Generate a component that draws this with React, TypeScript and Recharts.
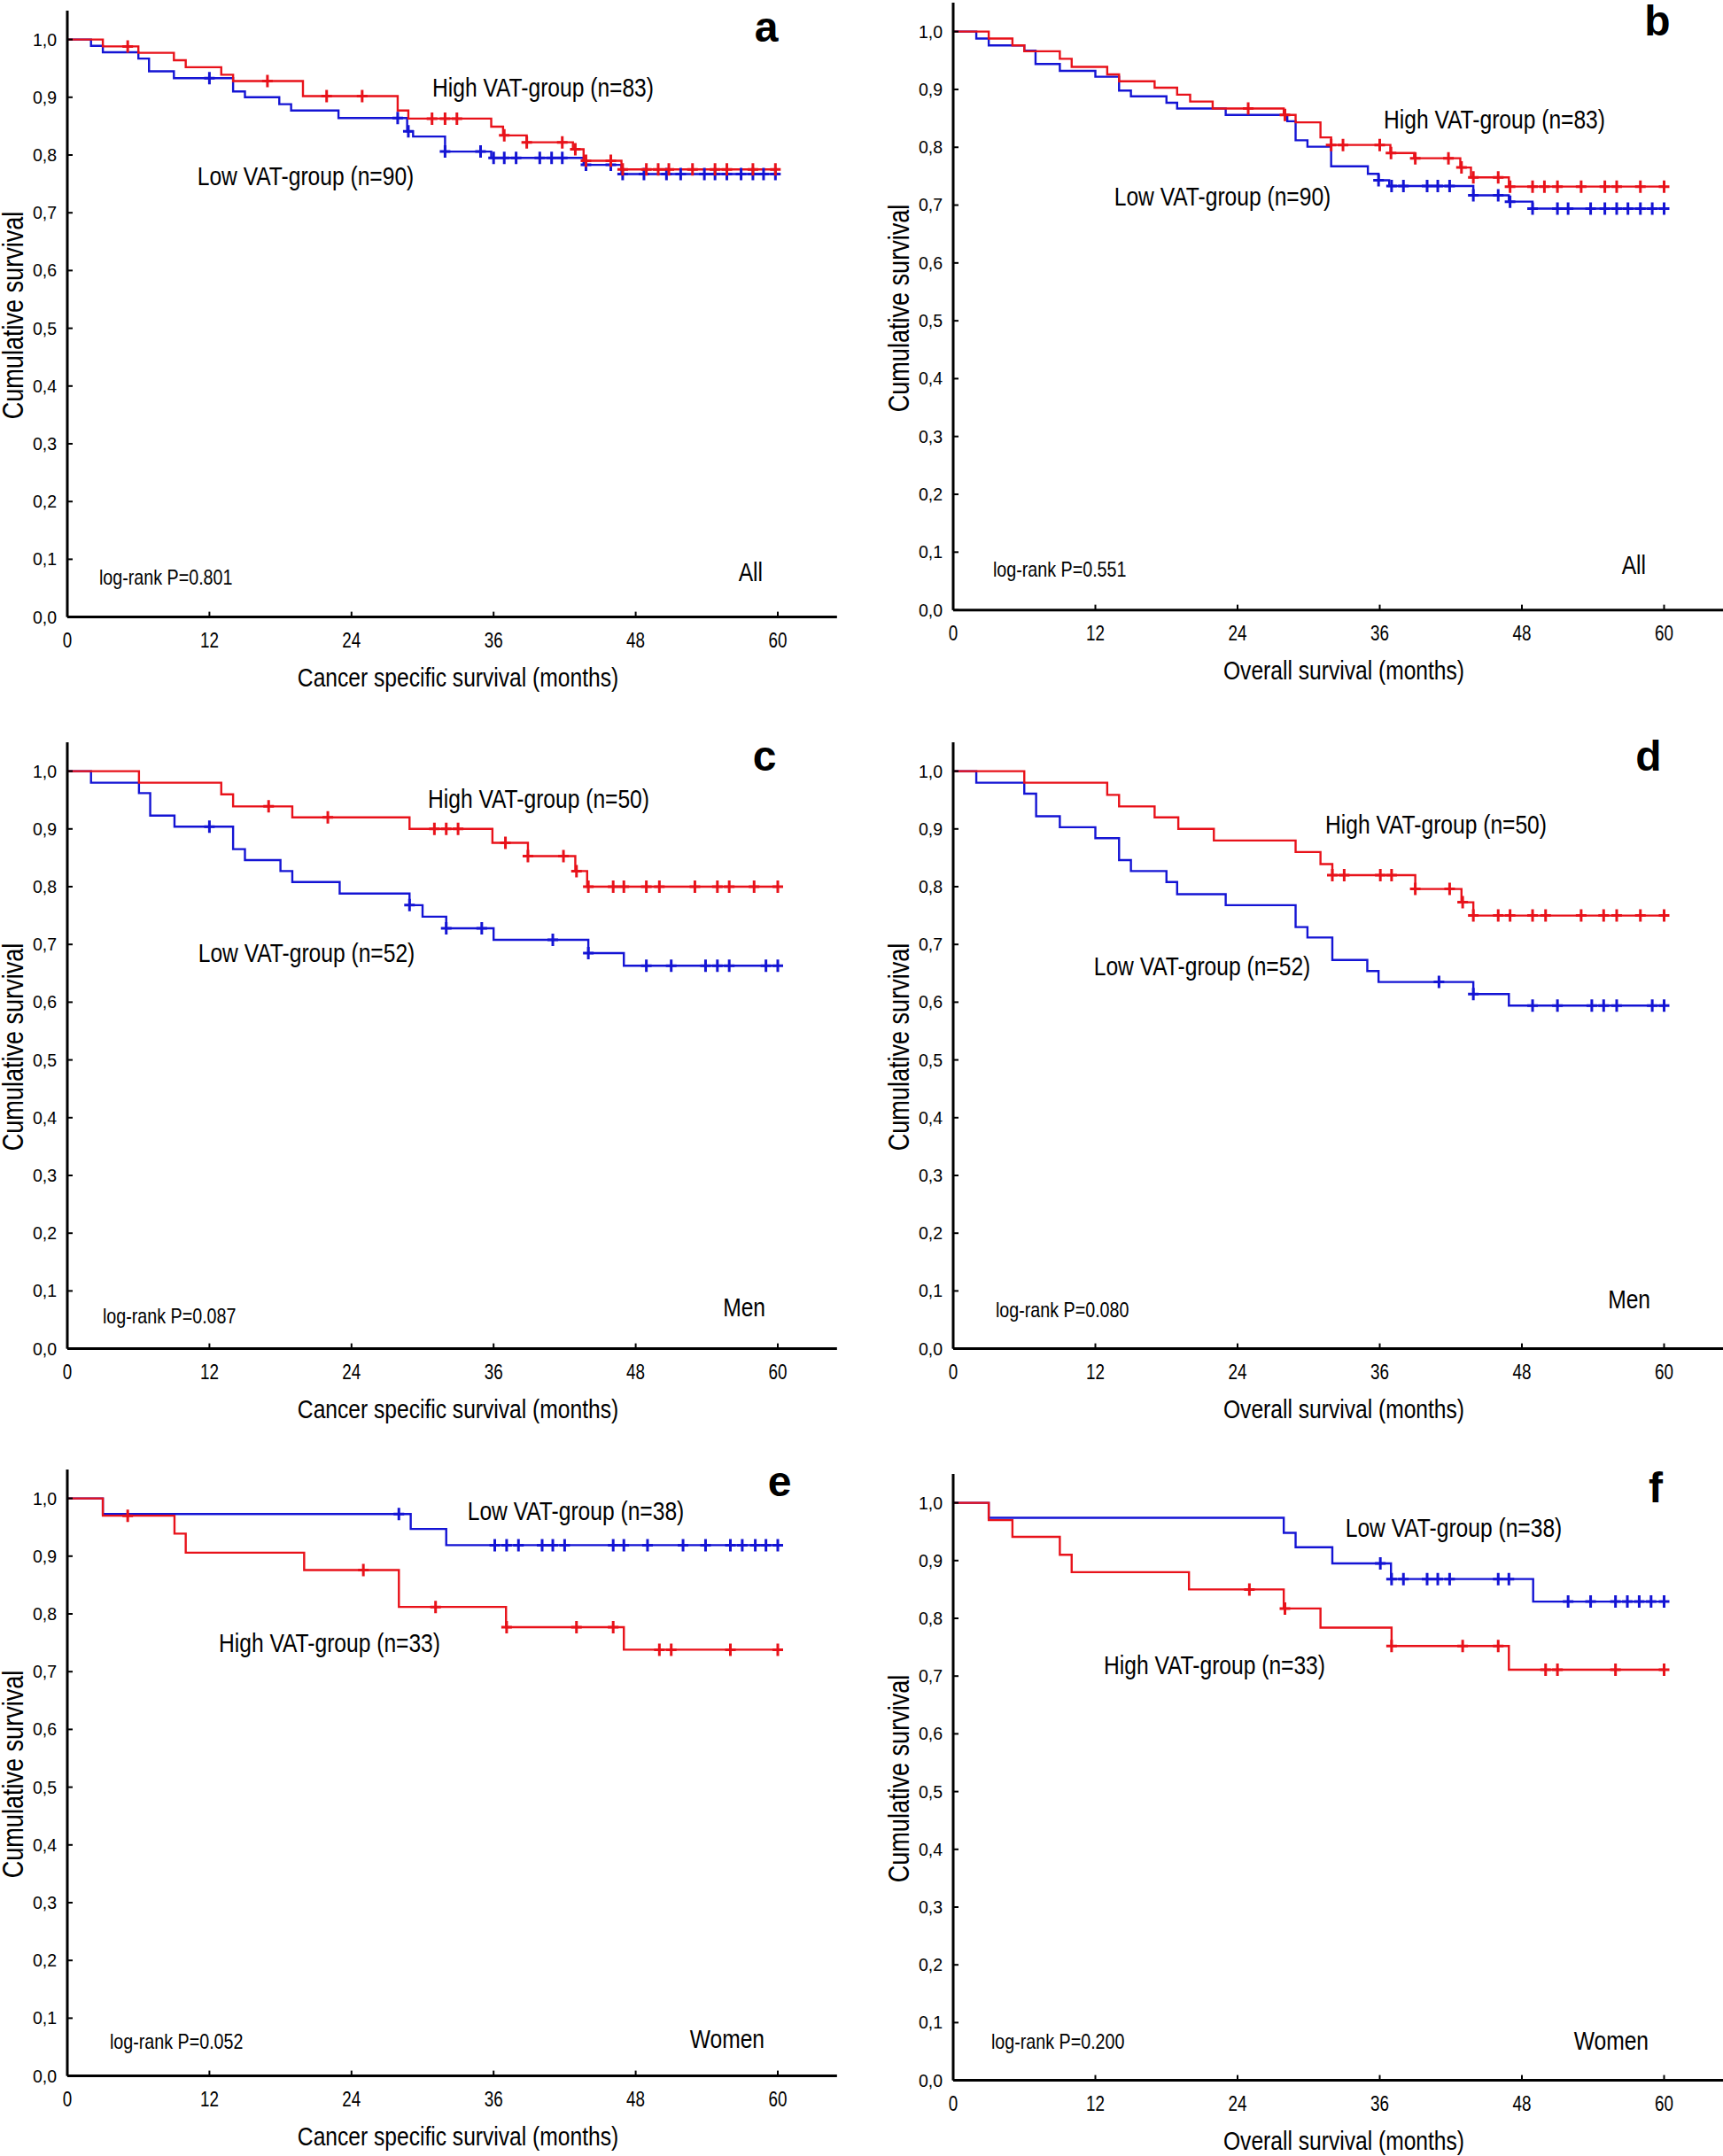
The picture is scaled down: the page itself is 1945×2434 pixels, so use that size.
import React from 'react';
import { ComposedChart, Line, Scatter, XAxis, YAxis } from 'recharts';

// ---------- Data (months, cumulative survival) ----------
// Panel a: cancer specific survival, All
const A_HIGH_T = [0, 3.0, 6.0, 9.0, 10.0, 13.0, 14.0, 19.9, 27.9, 28.8, 35.8, 36.8, 38.8, 42.7, 43.6, 46.8];
const A_HIGH_S = [1, 0.988, 0.977, 0.964, 0.952, 0.939, 0.928, 0.902, 0.877, 0.863, 0.849, 0.834, 0.822, 0.810, 0.790, 0.775];
const A_HIGH_C = [5.1, 16.9, 21.9, 24.9, 30.8, 31.9, 32.9, 36.9, 38.8, 41.8, 42.9, 43.8, 45.9, 46.9, 48.9, 49.9, 50.8, 52.8, 54.7, 55.7, 57.9, 59.8];
const A_LOW_T = [0, 2.0, 3.0, 6.0, 6.9, 9.0, 14.0, 15.0, 17.9, 18.9, 22.9, 28.7, 29.2, 31.9, 35.8, 43.6, 46.8];
const A_LOW_S = [1, 0.989, 0.978, 0.967, 0.945, 0.933, 0.910, 0.900, 0.888, 0.877, 0.864, 0.841, 0.832, 0.806, 0.795, 0.783, 0.767];
const A_LOW_C = [12.0, 27.9, 28.8, 31.9, 34.9, 36.0, 36.9, 37.9, 39.9, 40.9, 41.8, 43.8, 45.9, 46.9, 48.7, 50.6, 51.8, 53.8, 54.7, 55.7, 56.9, 57.9, 58.8, 59.8];

// Panel b: overall survival, All
const B_HIGH_T = [0, 3.0, 5.0, 6.0, 9.0, 10.0, 13.0, 14.0, 17.0, 18.9, 20.0, 21.9, 27.9, 28.9, 31.0, 31.9, 36.9, 38.9, 42.8, 43.7, 46.9];
const B_HIGH_S = [1, 0.988, 0.976, 0.966, 0.953, 0.939, 0.926, 0.914, 0.903, 0.891, 0.879, 0.867, 0.856, 0.843, 0.817, 0.804, 0.790, 0.781, 0.765, 0.748, 0.732];
const B_HIGH_C = [24.9, 28.0, 31.9, 32.9, 36.0, 36.95, 39.0, 41.8, 42.9, 43.9, 46.0, 47.0, 48.9, 49.9, 51.0, 53.0, 55.0, 56.0, 58.0, 60.0];
const B_LOW_T = [0, 1.95, 3.0, 6.0, 6.95, 9.0, 12.0, 14.0, 15.0, 18.0, 18.9, 23.0, 28.2, 28.9, 29.9, 31.9, 35.0, 35.9, 36.8, 43.9, 46.9, 48.9];
const B_LOW_S = [1, 0.988, 0.976, 0.967, 0.944, 0.932, 0.922, 0.898, 0.888, 0.877, 0.867, 0.856, 0.845, 0.812, 0.801, 0.767, 0.754, 0.743, 0.733, 0.717, 0.706, 0.694];
const B_LOW_C = [35.9, 37.0, 38.0, 40.0, 40.9, 41.9, 43.9, 46.0, 47.0, 48.9, 51.0, 51.9, 53.8, 55.0, 56.0, 56.95, 58.0, 59.0, 60.0];

// Panel c: cancer specific survival, Men
const C_HIGH_T = [0, 6.05, 13.0, 14.0, 19.0, 28.9, 35.9, 38.9, 42.9, 43.9];
const C_HIGH_S = [1, 0.980, 0.960, 0.939, 0.920, 0.900, 0.876, 0.853, 0.827, 0.800];
const C_HIGH_C = [17.0, 22.0, 31.0, 32.0, 33.0, 37.0, 38.9, 41.9, 43.0, 44.0, 46.1, 47.0, 48.9, 50.0, 53.0, 54.9, 55.9, 58.0, 60.0];
const C_LOW_T = [0, 2.0, 6.05, 7.0, 9.05, 14.0, 15.0, 18.0, 19.0, 23.0, 28.9, 30.0, 32.0, 36.0, 44.0, 47.0];
const C_LOW_S = [1, 0.980, 0.962, 0.923, 0.904, 0.865, 0.846, 0.827, 0.808, 0.788, 0.768, 0.748, 0.728, 0.708, 0.685, 0.663];
const C_LOW_C = [12.0, 28.9, 32.0, 35.0, 41.0, 44.0, 48.9, 51.0, 53.9, 54.9, 55.9, 59.0, 60.0];

// Panel d: overall survival, Men
const D_HIGH_T = [0, 6.0, 13.0, 14.0, 17.0, 19.0, 22.0, 28.9, 31.0, 32.0, 39.0, 42.9, 43.9];
const D_HIGH_S = [1, 0.980, 0.959, 0.939, 0.920, 0.900, 0.880, 0.860, 0.839, 0.820, 0.796, 0.773, 0.750];
const D_HIGH_C = [32.0, 33.0, 36.05, 37.0, 39.0, 41.9, 43.0, 43.9, 46.0, 47.0, 48.9, 50.0, 53.0, 54.9, 56.0, 58.0, 60.0];
const D_LOW_T = [0, 1.95, 6.0, 7.0, 9.0, 12.0, 14.0, 15.0, 18.0, 18.9, 23.0, 28.9, 29.9, 32.0, 34.95, 35.9, 43.9, 46.9];
const D_LOW_S = [1, 0.980, 0.961, 0.922, 0.903, 0.884, 0.846, 0.827, 0.808, 0.787, 0.768, 0.730, 0.712, 0.673, 0.654, 0.635, 0.614, 0.594];
const D_LOW_C = [41.0, 43.9, 48.9, 51.0, 53.9, 54.9, 56.0, 59.0, 60.0];

// Panel e: cancer specific survival, Women
const E_LOW_T = [0, 3.0, 29.0, 32.0];
const E_LOW_S = [1, 0.973, 0.947, 0.919];
const E_LOW_C = [28.0, 36.1, 37.1, 38.1, 40.1, 41.0, 42.0, 46.1, 47.0, 49.0, 52.0, 53.9, 56.0, 57.0, 58.1, 59.0, 60.0];
const E_HIGH_T = [0, 3.0, 9.05, 10.0, 20.0, 28.0, 37.05, 47.0];
const E_HIGH_S = [1, 0.970, 0.939, 0.906, 0.876, 0.812, 0.777, 0.738];
const E_HIGH_C = [5.1, 25.0, 31.1, 37.1, 43.0, 46.1, 50.0, 51.0, 56.0, 60.0];

// Panel f: overall survival, Women
const F_LOW_T = [0, 3.0, 27.9, 28.9, 32.0, 36.95, 48.95];
const F_LOW_S = [1, 0.974, 0.948, 0.923, 0.895, 0.868, 0.829];
const F_LOW_C = [36.05, 37.0, 38.0, 40.0, 40.9, 41.9, 46.0, 46.9, 51.9, 53.8, 55.9, 56.9, 57.9, 58.9, 60.0];
const F_HIGH_T = [0, 3.0, 5.0, 9.0, 10.0, 19.9, 27.9, 31.0, 37.0, 46.9];
const F_HIGH_S = [1, 0.970, 0.941, 0.910, 0.880, 0.850, 0.817, 0.784, 0.752, 0.711];
const F_HIGH_C = [25.0, 28.0, 37.0, 43.0, 46.0, 50.0, 51.0, 55.9, 60.0];

const X_TICKS = [0, 12, 24, 36, 48, 60];
const Y_TICKS = [0, 0.1, 0.2, 0.3, 0.4, 0.5, 0.6, 0.7, 0.8, 0.9, 1.0];

// ---------- Styles ----------
const RED = '#e8121a';
const BLUE = '#1414d4';
const FONT = "'Liberation Sans', Arial, sans-serif";
const NARROW = 0.82;

type Curve = { t: number[]; s: number[]; c: number[]; color: string };

function stepData(cv: Curve) {
  const pts = cv.t.map((t, i) => ({ t, s: cv.s[i] }));
  const end = Math.max(cv.c.length ? cv.c[cv.c.length - 1] : 0, cv.t[cv.t.length - 1]);
  pts.push({ t: end, s: cv.s[cv.s.length - 1] });
  return pts;
}
function censorData(cv: Curve) {
  return cv.c.map((t) => {
    let v = cv.s[0];
    for (let i = 0; i < cv.t.length; i++) if (cv.t[i] <= t + 1e-9) v = cv.s[i];
    return { t, s: v };
  });
}
const fmtY = (v: number) => v.toFixed(1).replace('.', ',');

type PanelDef = {
  x0: number; x60: number; y1: number; y0: number;
  curves: Curve[];
  xTitle: string;
  letter: string; letterPos: [number, number];
  high: string; highPos: [number, number];
  low: string; lowPos: [number, number];
  logrank: string; logrankPos: [number, number];
  group: string; groupPos: [number, number];
};

const PANELS: PanelDef[] = [
  {
    x0: 75.5, x60: 877.5, y1: 45, y0: 697,
    curves: [
      { t: A_LOW_T, s: A_LOW_S, c: A_LOW_C, color: BLUE },
      { t: A_HIGH_T, s: A_HIGH_S, c: A_HIGH_C, color: RED },
    ],
    xTitle: 'Cancer specific survival (months)',
    letter: 'a', letterPos: [865, 31],
    high: 'High VAT-group (n=83)', highPos: [613, 99],
    low: 'Low VAT-group (n=90)', lowPos: [345, 199],
    logrank: 'log-rank P=0.801', logrankPos: [112, 652],
    group: 'All', groupPos: [861, 646],
  },
  {
    x0: 1076, x60: 1878.5, y1: 36, y0: 689,
    curves: [
      { t: B_LOW_T, s: B_LOW_S, c: B_LOW_C, color: BLUE },
      { t: B_HIGH_T, s: B_HIGH_S, c: B_HIGH_C, color: RED },
    ],
    xTitle: 'Overall survival (months)',
    letter: 'b', letterPos: [1871, 24],
    high: 'High VAT-group (n=83)', highPos: [1687, 135],
    low: 'Low VAT-group (n=90)', lowPos: [1380, 222],
    logrank: 'log-rank P=0.551', logrankPos: [1121, 643],
    group: 'All', groupPos: [1858, 638],
  },
  {
    x0: 75.5, x60: 877.5, y1: 871, y0: 1523,
    curves: [
      { t: C_LOW_T, s: C_LOW_S, c: C_LOW_C, color: BLUE },
      { t: C_HIGH_T, s: C_HIGH_S, c: C_HIGH_C, color: RED },
    ],
    xTitle: 'Cancer specific survival (months)',
    letter: 'c', letterPos: [863, 854],
    high: 'High VAT-group (n=50)', highPos: [608, 902],
    low: 'Low VAT-group (n=52)', lowPos: [346, 1076],
    logrank: 'log-rank P=0.087', logrankPos: [116, 1486],
    group: 'Men', groupPos: [864, 1476],
  },
  {
    x0: 1076, x60: 1878.5, y1: 871, y0: 1523,
    curves: [
      { t: D_LOW_T, s: D_LOW_S, c: D_LOW_C, color: BLUE },
      { t: D_HIGH_T, s: D_HIGH_S, c: D_HIGH_C, color: RED },
    ],
    xTitle: 'Overall survival (months)',
    letter: 'd', letterPos: [1861, 854],
    high: 'High VAT-group (n=50)', highPos: [1621, 931],
    low: 'Low VAT-group (n=52)', lowPos: [1357, 1091],
    logrank: 'log-rank P=0.080', logrankPos: [1124, 1479],
    group: 'Men', groupPos: [1863, 1467],
  },
  {
    x0: 75.5, x60: 877.5, y1: 1692, y0: 2344,
    curves: [
      { t: E_LOW_T, s: E_LOW_S, c: E_LOW_C, color: BLUE },
      { t: E_HIGH_T, s: E_HIGH_S, c: E_HIGH_C, color: RED },
    ],
    xTitle: 'Cancer specific survival (months)',
    letter: 'e', letterPos: [880, 1673],
    high: 'High VAT-group (n=33)', highPos: [372, 1855],
    low: 'Low VAT-group (n=38)', lowPos: [650, 1706],
    logrank: 'log-rank P=0.052', logrankPos: [124, 2305],
    group: 'Women', groupPos: [863, 2302],
  },
  {
    x0: 1076, x60: 1878.5, y1: 1697, y0: 2349,
    curves: [
      { t: F_LOW_T, s: F_LOW_S, c: F_LOW_C, color: BLUE },
      { t: F_HIGH_T, s: F_HIGH_S, c: F_HIGH_C, color: RED },
    ],
    xTitle: 'Overall survival (months)',
    letter: 'f', letterPos: [1869, 1680],
    high: 'High VAT-group (n=33)', highPos: [1371, 1880],
    low: 'Low VAT-group (n=38)', lowPos: [1641, 1725],
    logrank: 'log-rank P=0.200', logrankPos: [1119, 2305],
    group: 'Women', groupPos: [1861, 2304],
  },
];

function PlusShape(color: string) {
  return (props: any) => {
    const { cx, cy } = props;
    if (cx == null || cy == null) return <g />;
    return (
      <path
        d={`M${cx - 6},${cy}H${cx + 6}M${cx},${cy - 7}V${cy + 7}`}
        stroke={color}
        strokeWidth={3}
        fill="none"
      />
    );
  };
}

function NarrowXTick(props: any) {
  const { x, y, payload } = props;
  return (
    <g transform={`translate(${x},${y})`}>
      <text
        transform={`scale(${NARROW},1)`}
        textAnchor="middle"
        dy="0.71em"
        fontSize={23}
        fontFamily={FONT}
        fill="#000"
      >
        {payload.value}
      </text>
    </g>
  );
}

const baseTxt: React.CSSProperties = {
  position: 'absolute', whiteSpace: 'nowrap', lineHeight: 0.8, fontFamily: FONT, color: '#000',
};

function Panel({ p }: { p: PanelDef }) {
  const pm = (p.x60 - p.x0) / 60;
  const plotW = 65 * pm;
  const unit = p.y0 - p.y1;
  const plotH = 1.05 * unit;
  const top = p.y0 - plotH;
  const YW = 76, MT = 10, MR = 10, XH = 45;
  const center = (x: number, y: number, size: number): React.CSSProperties => ({
    ...baseTxt, left: x, top: y, fontSize: size,
    transform: `translate(-50%,-50%) scaleX(${NARROW})`,
  });
  return (
    <>
      <div style={{ position: 'absolute', left: p.x0 - YW, top: top - MT }}>
        <ComposedChart
          width={YW + plotW + MR}
          height={MT + plotH + XH}
          margin={{ top: MT, right: MR, bottom: 0, left: 0 }}
        >
          <XAxis
            type="number"
            dataKey="t"
            domain={[0, 65]}
            ticks={X_TICKS}
            interval={0}
            allowDataOverflow
            height={XH}
            tickSize={-6}
            tickMargin={24}
            axisLine={{ stroke: '#000', strokeWidth: 3 }}
            tickLine={{ stroke: '#000', strokeWidth: 2 }}
            tick={<NarrowXTick />}
          />
          <YAxis
            type="number"
            dataKey="s"
            domain={[0, 1.05]}
            ticks={Y_TICKS}
            interval={0}
            allowDataOverflow
            width={YW}
            tickSize={-6}
            tickMargin={18}
            tickFormatter={fmtY}
            axisLine={{ stroke: '#000', strokeWidth: 3 }}
            tickLine={{ stroke: '#000', strokeWidth: 2 }}
            tick={{ fontSize: 19.5, fontFamily: FONT, fill: '#000' }}
          />
          {p.curves.map((cv, i) => (
            <Line
              key={'l' + i}
              data={stepData(cv)}
              dataKey="s"
              type="stepAfter"
              stroke={cv.color}
              strokeWidth={2.4}
              dot={false}
              activeDot={false}
              isAnimationActive={false}
            />
          ))}
          {p.curves.map((cv, i) => (
            <Scatter
              key={'c' + i}
              data={censorData(cv)}
              dataKey="s"
              fill={cv.color}
              shape={PlusShape(cv.color)}
              isAnimationActive={false}
            />
          ))}
        </ComposedChart>
      </div>
      <div
        style={{
          ...baseTxt,
          left: p.x0 - 61,
          top: (p.y0 + p.y1) / 2 - 15,
          fontSize: 33,
          writingMode: 'vertical-rl',
          transform: `translate(-50%,-50%) rotate(180deg) scaleY(${NARROW})`,
        }}
      >
        Cumulative survival
      </div>
      <div style={center(p.x0 + 441, p.y0 + 68, 30)}>{p.xTitle}</div>
      <div style={{ ...baseTxt, left: p.letterPos[0], top: p.letterPos[1], fontSize: 48, fontWeight: 'bold', transform: 'translate(-50%,-50%)' }}>
        {p.letter}
      </div>
      <div style={center(p.highPos[0], p.highPos[1], 30)}>{p.high}</div>
      <div style={center(p.lowPos[0], p.lowPos[1], 30)}>{p.low}</div>
      <div style={{ ...baseTxt, left: p.logrankPos[0], top: p.logrankPos[1], fontSize: 24, transformOrigin: 'left center', transform: `translateY(-50%) scaleX(${NARROW})` }}>
        {p.logrank}
      </div>
      <div style={{ ...baseTxt, left: p.groupPos[0], top: p.groupPos[1], fontSize: 30, transformOrigin: 'right center', transform: `translate(-100%,-50%) scaleX(${NARROW})` }}>
        {p.group}
      </div>
    </>
  );
}

export default function App() {
  return (
    <div style={{ position: 'absolute', left: 0, top: 0, width: 1945, height: 2434, overflow: 'hidden', background: '#fff' }}>
      {PANELS.map((p, i) => (
        <Panel key={i} p={p} />
      ))}
    </div>
  );
}
